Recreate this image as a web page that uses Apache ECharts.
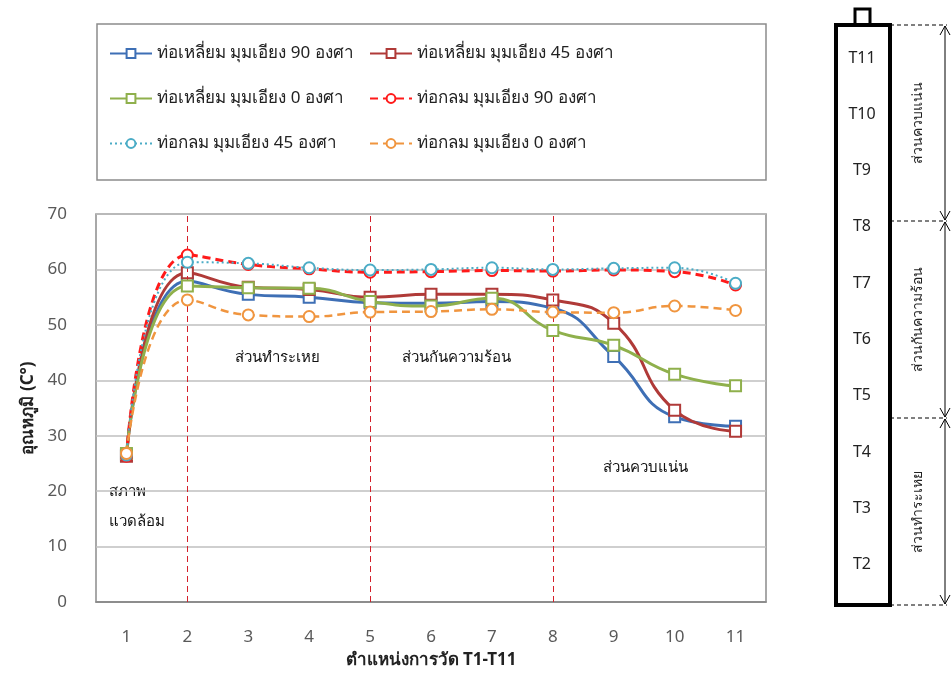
<!DOCTYPE html>
<html>
<head>
<meta charset="utf-8">
<script src="https://cdn.jsdelivr.net/npm/echarts@6/dist/echarts.min.js"></script>
<style>
html,body{margin:0;padding:0;background:#fff;}
#main{width:951px;height:684px;}
</style>
</head>
<body>
<div id="main"></div>
<script>
// ---- data ----
const categories = ['1','2','3','4','5','6','7','8','9','10','11'];
const seriesNames = [
  'ท่อเหลี่ยม มุมเอียง 90 องศา',
  'ท่อเหลี่ยม มุมเอียง 45 องศา',
  'ท่อเหลี่ยม มุมเอียง 0 องศา',
  'ท่อกลม มุมเอียง 90 องศา',
  'ท่อกลม มุมเอียง 45 องศา',
  'ท่อกลม มุมเอียง 0 องศา'
];
const squareDeg90 = [26.5, 57.9, 55.5, 55.0, 54.0, 53.9, 54.2, 53.0, 44.3, 33.4, 31.7];
const squareDeg45 = [26.3, 59.4, 56.8, 56.4, 55.0, 55.5, 55.5, 54.5, 50.3, 34.6, 30.8];
const squareDeg0  = [26.8, 57.0, 56.7, 56.6, 54.2, 53.4, 54.8, 49.0, 46.3, 41.1, 39.0];
const roundDeg90  = [26.3, 62.6, 60.9, 60.1, 59.5, 59.6, 59.8, 59.7, 59.9, 59.6, 57.2];
const roundDeg45  = [26.5, 61.3, 61.1, 60.3, 59.9, 60.0, 60.3, 60.0, 60.2, 60.3, 57.5];
const roundDeg0   = [26.8, 54.5, 51.8, 51.5, 52.3, 52.4, 52.8, 52.3, 52.2, 53.4, 52.6];
const sectionBounds = ['2', '5', '8'];
const sensorLabels = ['T11','T10','T9','T8','T7','T6','T5','T4','T3','T2'];
const sectionNames = ['ส่วนควบแน่น', 'ส่วนกันความร้อน', 'ส่วนทำระเหย'];
const yTicks = { min: 0, max: 70, interval: 10 };

// ---- styling ----
const FONT = '"Noto Sans", "DejaVu Sans", sans-serif';
const colors = ['#3e6fb5', '#b03a38', '#8fb04c', '#ff1a1a', '#4bacc6', '#f0953f'];
const lineTypes = ['solid', 'solid', 'solid', [8, 5], [2, 3], [8, 5]];
const lineWidths = [3, 3, 3, 3, 2, 2.5];
const symbols = ['emptyRect', 'emptyRect', 'emptyRect', 'emptyCircle', 'emptyCircle', 'emptyCircle'];
const values = [squareDeg90, squareDeg45, squareDeg0, roundDeg90, roundDeg45, roundDeg0];

const series = values.map((vals, i) => ({
  name: seriesNames[i],
  type: 'line',
  smooth: 0.5,
  data: vals,
  symbol: symbols[i],
  symbolSize: 11,
  color: colors[i],
  lineStyle: { color: colors[i], width: lineWidths[i], type: lineTypes[i] },
  itemStyle: { color: colors[i], borderColor: colors[i], borderWidth: 1.5 },
  z: 3 + i
}));
series[0].markLine = {
  silent: true,
  symbol: 'none',
  label: { show: false },
  lineStyle: { color: '#d4202a', type: [6, 4], width: 1 },
  data: sectionBounds.map(c => ({ xAxis: c }))
};

const chart = echarts.init(document.getElementById('main'), null, { renderer: 'canvas' });

const legendText = { fontFamily: FONT, fontSize: 17, color: '#222' };

// right diagram elements
const boxX = 836, boxW = 54, boxTop = 25, boxBot = 605;
const diagram = [];
diagram.push({ type: 'rect', shape: { x: 855, y: 9, width: 15, height: 16 }, style: { fill: '#fff', stroke: '#000', lineWidth: 3 } });
diagram.push({ type: 'rect', shape: { x: boxX, y: boxTop, width: boxW, height: boxBot - boxTop }, style: { fill: '#fff', stroke: '#000', lineWidth: 4 } });
sensorLabels.forEach((t, i) => {
  diagram.push({ type: 'text', x: 862, y: 58 + i * 56.3, style: { text: t, fontFamily: FONT, fontSize: 16, fill: '#222', align: 'center', verticalAlign: 'middle' } });
});
const divY = [25, 221, 418, 605];
divY.forEach(y => {
  diagram.push({ type: 'line', shape: { x1: 890, y1: y, x2: 947, y2: y }, style: { stroke: '#000', lineWidth: 1, lineDash: [4, 3] } });
});
for (let k = 0; k < 3; k++) {
  const y1 = divY[k], y2 = divY[k + 1];
  diagram.push({ type: 'line', shape: { x1: 945, y1: y1 + 1, x2: 945, y2: y2 - 1 }, style: { stroke: '#000', lineWidth: 1 } });
  diagram.push({ type: 'polyline', shape: { points: [[940, y1 + 10], [945, y1 + 1], [950, y1 + 10]] }, style: { stroke: '#000', lineWidth: 1, fill: null } });
  diagram.push({ type: 'polyline', shape: { points: [[940, y2 - 10], [945, y2 - 1], [950, y2 - 10]] }, style: { stroke: '#000', lineWidth: 1, fill: null } });
  diagram.push({ type: 'text', x: 918, y: (y1 + y2) / 2, rotation: Math.PI / 2,
    style: { text: sectionNames[k], fontFamily: FONT, fontSize: 14, fill: '#222', align: 'center', verticalAlign: 'middle' } });
}

chart.setOption({
  backgroundColor: '#fff',
  animation: false,
  textStyle: { fontFamily: FONT },
  grid: { left: 96, right: 185, top: 214, bottom: 82, show: true, borderColor: '#8c8c8c', borderWidth: 1.5, backgroundColor: 'transparent' },
  legend: [
    { orient: 'vertical', left: 104, top: 40, itemGap: 28, itemWidth: 42, itemHeight: 11,
      textStyle: legendText, data: [seriesNames[0], seriesNames[2], seriesNames[4]] },
    { orient: 'vertical', left: 364, top: 40, itemGap: 28, itemWidth: 42, itemHeight: 11,
      textStyle: legendText, data: [seriesNames[1], seriesNames[3], seriesNames[5]] }
  ],
  xAxis: {
    type: 'category',
    data: categories,
    boundaryGap: true,
    name: 'ตำแหน่งการวัด T1-T11',
    nameLocation: 'middle',
    nameGap: 50,
    nameTextStyle: { fontFamily: FONT, fontSize: 17, fontWeight: 'bold', color: '#222' },
    axisLine: { lineStyle: { color: '#7f7f7f', width: 1.5 } },
    axisTick: { show: false },
    axisLabel: { margin: 27, fontSize: 17, color: '#595959', fontFamily: FONT },
    splitLine: { show: false }
  },
  yAxis: {
    type: 'value',
    min: yTicks.min, max: yTicks.max, interval: yTicks.interval,
    name: 'อุณหภูมิ (C°)',
    nameLocation: 'middle',
    nameGap: 50,
    nameTextStyle: { fontFamily: FONT, fontSize: 17, fontWeight: 'bold', color: '#222' },
    axisLine: { show: false },
    axisTick: { show: false },
    axisLabel: { margin: 29, fontSize: 17, color: '#595959', fontFamily: FONT },
    splitLine: { lineStyle: { color: '#bfbfbf', width: 1.5 } }
  },
  series: series,
  graphic: [
    { type: 'rect', shape: { x: 97, y: 24, width: 669, height: 156 }, style: { fill: null, stroke: '#8c8c8c', lineWidth: 1.5 }, z: -1 },
    { type: 'text', x: 277, y: 358, style: { text: 'ส่วนทำระเหย', fontFamily: FONT, fontSize: 15, fill: '#111', align: 'center', verticalAlign: 'middle' } },
    { type: 'text', x: 456, y: 358, style: { text: 'ส่วนกันความร้อน', fontFamily: FONT, fontSize: 15, fill: '#111', align: 'center', verticalAlign: 'middle' } },
    { type: 'text', x: 645, y: 468, style: { text: 'ส่วนควบแน่น', fontFamily: FONT, fontSize: 15, fill: '#111', align: 'center', verticalAlign: 'middle' } },
    { type: 'text', x: 109, y: 492, style: { text: 'สภาพ', fontFamily: FONT, fontSize: 15, fill: '#111', align: 'left', verticalAlign: 'middle' } },
    { type: 'text', x: 109, y: 522, style: { text: 'แวดล้อม', fontFamily: FONT, fontSize: 15, fill: '#111', align: 'left', verticalAlign: 'middle' } }
  ].concat(diagram)
});
</script>
</body>
</html>
